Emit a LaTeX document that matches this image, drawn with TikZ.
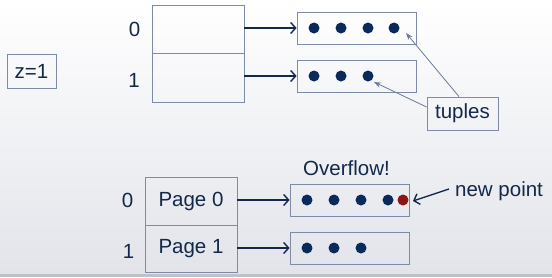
\documentclass[tikz,border=0pt]{standalone}
\usepackage{fontspec}
\setmainfont{Liberation Sans}
\usetikzlibrary{arrows.meta}
\definecolor{navy}{HTML}{13284A}
\definecolor{dotblue}{HTML}{0B2A5C}
\definecolor{boxline}{HTML}{7D8BA6}
\definecolor{thinline}{HTML}{6A7A9A}
\definecolor{dotred}{HTML}{8B1414}
\definecolor{bgbottom}{HTML}{E2E4EA}
\definecolor{band}{HTML}{BFC2C8}
\begin{document}
\begin{tikzpicture}[x=1pt,y=-1pt,
  every node/.style={font=\fontsize{20.5}{24}\selectfont, text=navy, inner sep=0pt},
  cell/.style={draw=boxline, line width=0.8pt, minimum width=92pt},
  bucket/.style={draw=boxline, line width=0.8pt, minimum width=119pt, minimum height=32pt},
  labbox/.style={draw=boxline, line width=0.8pt},
  dot/.style={circle, fill=dotblue, minimum size=11pt},
  reddot/.style={circle, fill=dotred, minimum size=11pt},
  ptr/.style={draw=navy, line width=1.4pt, -{Straight Barb[length=5pt,width=11pt,line width=1.4pt]}},
  thin/.style={draw=thinline, line width=0.8pt, -{Stealth[length=7pt,width=5pt]}},
  newarr/.style={draw=navy, line width=1.4pt, -{Straight Barb[length=5pt,width=11pt,line width=1.4pt]}}
]
\useasboundingbox (0,0) rectangle (552,277);
\shade[top color=white, bottom color=bgbottom] (0,0) rectangle (552,273.5);
\fill[band] (0,273.5) rectangle (552,277);

% z=1
\node[labbox, minimum width=49pt, minimum height=34pt] (z) at (31.5,71) {z=1};

% top directory
\node[cell, minimum height=48pt] (tc0) at (198,29) {};
\node[cell, minimum height=49pt] (tc1) at (198,77.5) {};
\node[anchor=base] (tl0) at (134.5,36) {0};
\node[anchor=base] (tl1) at (134,87) {1};

% top buckets
\node[bucket] (tb0) at (356.5,28) {};
\node[bucket] (tb1) at (356.5,76) {};
\node[dot] (d00) at (314,28) {};
\node[dot] (d01) at (341,28) {};
\node[dot] (d02) at (368,28) {};
\node[dot] (d03) at (394,28) {};
\node[dot] (d10) at (314,76) {};
\node[dot] (d11) at (341,76) {};
\node[dot] (d12) at (368,76) {};

\draw[ptr] (tc0.east |- tb0) -- (tb0.west);
\draw[ptr] (tc1.east |- tb1) -- (tb1.west);

% tuples
\node[labbox, minimum width=71pt, minimum height=33pt] (tup) at (462.5,113.5) {tuples};
\coordinate (t1) at (406,33);
\coordinate (t2) at (374,82);
\draw[thin] (tup.north -| 459,0) -- (t1);
\draw[thin] (tup.west |- 0,107) -- (t2);

% bottom directory
\node[cell, minimum height=48pt] (bc0) at (191,201) {Page 0};
\node[cell, minimum height=47pt] (bc1) at (191,248.5) {Page 1};
\node[anchor=base] (bl0) at (127.5,207) {0};
\node[anchor=base] (bl1) at (128.5,258) {1};

% bottom buckets
\node[bucket] (bb0) at (349.5,200) {};
\node[bucket] (bb1) at (349.5,248) {};
\node[dot] (e00) at (307,200) {};
\node[dot] (e01) at (334,200) {};
\node[dot] (e02) at (361,200) {};
\node[dot] (e03) at (388,200) {};
\node[reddot] (enew) at (403,200) {};
\node[dot] (e10) at (307,248) {};
\node[dot] (e11) at (334,248) {};
\node[dot] (e12) at (361,248) {};

\draw[ptr] (bc0.east |- bb0) -- (bb0.west);
\draw[ptr] (bc1.east |- bb1) -- (bb1.west);

\node[anchor=base west] (ovf) at (303,175) {Overflow!};
\node[anchor=base west] (np) at (455,196) {new point};
\coordinate (npstart) at (449,189);
\coordinate (nptip) at (413,201);
\draw[newarr] (npstart) -- (nptip);
\end{tikzpicture}
\end{document}
